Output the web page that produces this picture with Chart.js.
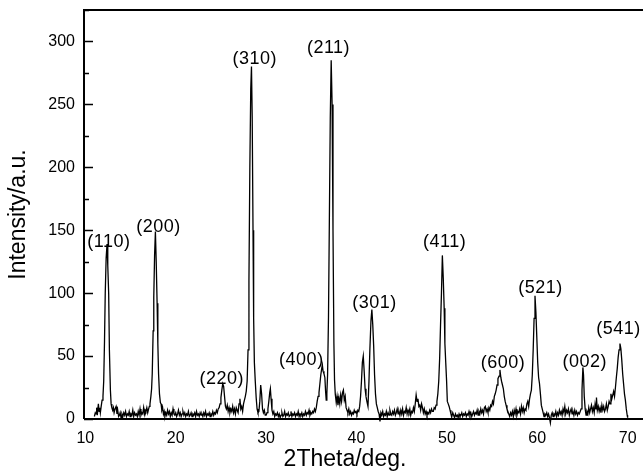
<!DOCTYPE html>
<html>
<head>
<meta charset="utf-8">
<script src="https://cdn.jsdelivr.net/npm/chart.js@4.4.1/dist/chart.umd.min.js"></script>
<style>
  html, body { margin: 0; padding: 0; background: #fff; }
  #wrap { width: 643px; height: 473px; position: relative; }
</style>
</head>
<body>
<div id="wrap"><canvas id="xrd"></canvas></div>
<script>
// XRD pattern as [2theta, intensity] pairs
const scan10to20 = [
  [11.0,2],[11.1,5],[11.18,4],[11.25,9],[11.32,3],[11.44,12],[11.52,6],[11.6,9],[11.66,5],[11.75,10],
  [11.85,15],[11.95,18],[12.03,30],[12.12,62],[12.2,100],[12.3,128],[12.4,139],[12.48,122],[12.58,100],
  [12.66,55],[12.77,23],[12.85,12],[12.93,9],[13.02,7],[13.1,9],[13.18,5],[13.28,8],[13.4,10],[13.5,4],
  [13.58,7],[13.68,2],[13.77,3],[13.85,5],[13.95,1],[14.05,4],[14.15,2],[14.25,5],[14.35,3],[14.45,6],
  [14.55,2],[14.65,4],[14.75,3],[14.85,6],[14.95,2],[15.05,4],[15.15,3],[15.25,7],[15.35,2],[15.45,5],
  [15.55,3],[15.65,4],[15.75,2],[15.85,6],[15.95,3],[16.05,8],[16.15,3],[16.25,5],[16.35,4],[16.45,9],
  [16.55,4],[16.62,7],[16.7,6],[16.8,9],[16.9,5],[17.0,8],[17.08,10],[17.15,12],[17.25,18],[17.33,24],
  [17.4,36],[17.5,70],[17.57,97],[17.66,130],[17.75,149],[17.84,125],[17.94,92],[18.02,60],[18.1,36],
  [18.2,20],[18.3,13],[18.38,12],[18.46,7],[18.55,9],[18.64,4],[18.72,6],[18.8,2],[18.9,5],[19.0,3],
  [19.1,7],[19.2,4],[19.3,6],[19.4,2],[19.5,5],[19.6,3],[19.7,8],[19.8,4],[19.9,3]
];
const scan20to30 = [
  [20.0,5],[20.1,2],[20.2,4],[20.3,7],[20.4,3],[20.5,5],[20.6,2],[20.7,4],[20.8,6],[20.9,3],[21.0,5],
  [21.1,2],[21.2,4],[21.3,3],[21.4,6],[21.5,2],[21.6,3],[21.7,5],[21.8,2],[21.9,4],[22.0,3],[22.1,5],
  [22.2,2],[22.3,6],[22.4,3],[22.5,4],[22.6,2],[22.7,5],[22.8,3],[22.9,4],[23.0,2],[23.1,5],[23.2,3],
  [23.3,6],[23.4,2],[23.5,4],[23.6,3],[23.7,5],[23.8,2],[23.9,4],[24.0,3],[24.1,6],[24.2,3],[24.3,5],
  [24.4,4],[24.5,7],[24.6,5],[24.7,8],[24.8,9],[24.9,12],[25.0,17],[25.1,23],[25.2,28],[25.3,26],
  [25.4,18],[25.5,10],[25.6,8],[25.7,11],[25.8,6],[25.9,9],[26.0,5],[26.1,8],[26.2,6],[26.3,10],
  [26.4,5],[26.5,8],[26.6,4],[26.7,9],[26.8,7],[26.9,5],[27.0,12],[27.1,16],[27.2,8],[27.3,10],
  [27.4,6],[27.5,12],[27.6,15],[27.7,18],[27.8,22],[27.9,30],[28.0,55],[28.1,110],[28.2,200],
  [28.3,262],[28.38,280],[28.46,240],[28.55,150],[28.62,80],[28.7,45],[28.8,30],[28.9,17],[29.0,8],
  [29.1,5],[29.2,6],[29.3,14],[29.4,27],[29.5,20],[29.6,8],[29.7,5],[29.8,7],[29.9,3]
];
const scan30to40 = [
  [30.0,3],[30.1,5],[30.2,8],[30.3,14],[30.4,21],[30.47,24],[30.55,16],[30.65,7],[30.75,4],[30.85,6],
  [30.95,2],[31.05,4],[31.15,3],[31.25,5],[31.35,2],[31.45,4],[31.55,1],[31.65,3],[31.75,5],[31.85,2],
  [31.95,3],[32.05,6],[32.15,2],[32.25,4],[32.35,3],[32.45,5],[32.55,2],[32.65,3],[32.75,6],[32.85,2],
  [32.95,4],[33.05,3],[33.15,5],[33.25,2],[33.35,4],[33.45,3],[33.55,6],[33.65,2],[33.75,4],[33.85,3],
  [33.95,5],[34.05,2],[34.15,4],[34.25,3],[34.35,6],[34.45,3],[34.55,5],[34.65,4],[34.75,7],[34.85,3],
  [34.95,5],[35.05,4],[35.15,6],[35.25,5],[35.35,8],[35.45,6],[35.55,9],[35.65,14],[35.75,18],
  [35.85,21],[35.95,28],[36.05,35],[36.15,40],[36.22,43],[36.3,38],[36.4,36],[36.5,33],[36.58,22],
  [36.65,15],[36.72,20],[36.8,35],[36.9,80],[37.0,160],[37.1,240],[37.2,285],[37.3,250],[37.4,150],
  [37.5,60],[37.57,31],[37.65,20],[37.76,13],[37.85,18],[37.95,11],[38.05,17],[38.15,12],[38.25,19],
  [38.35,14],[38.45,21],[38.55,23],[38.65,15],[38.75,18],[38.85,9],[38.95,7],[39.05,5],[39.15,8],
  [39.25,4],[39.35,6],[39.45,3],[39.55,5],[39.65,4],[39.75,7],[39.85,5],[39.95,6]
];
const scan40to50 = [
  [40.05,4],[40.15,7],[40.25,6],[40.35,10],[40.45,18],[40.55,30],[40.65,45],[40.75,50],[40.85,38],
  [40.95,24],[41.05,18],[41.15,14],[41.27,10],[41.38,30],[41.48,55],[41.6,78],[41.7,87],[41.8,75],
  [41.9,58],[42.0,35],[42.1,20],[42.2,12],[42.3,9],[42.4,6],[42.5,4],[42.6,-2],[42.7,5],[42.8,3],
  [42.9,6],[43.0,2],[43.1,4],[43.2,3],[43.3,6],[43.4,2],[43.5,5],[43.6,3],[43.7,7],[43.8,4],[43.9,3],
  [44.0,6],[44.1,4],[44.2,7],[44.3,3],[44.4,5],[44.5,8],[44.6,4],[44.7,6],[44.8,3],[44.9,7],[45.0,4],
  [45.1,8],[45.2,3],[45.3,6],[45.4,5],[45.5,9],[45.6,4],[45.7,7],[45.8,5],[45.9,8],[46.0,3],[46.1,6],
  [46.2,5],[46.3,9],[46.4,6],[46.5,12],[46.6,19],[46.7,14],[46.8,16],[46.9,10],[47.0,11],[47.1,7],
  [47.2,12],[47.3,9],[47.4,5],[47.5,8],[47.6,4],[47.7,6],[47.8,3],[47.9,5],[48.0,4],[48.1,7],[48.2,5],
  [48.3,8],[48.4,6],[48.5,6],[48.6,9],[48.7,8],[48.8,11],[48.9,14],[49.0,20],[49.1,30],[49.2,48],
  [49.3,75],[49.4,100],[49.5,130],[49.6,112],[49.7,88],[49.78,60],[49.88,44],[49.97,30],[50.05,14],
  [50.15,12],[50.25,10],[50.35,7],[50.45,4]
];
const scan50to60 = [
  [50.55,2],[50.65,5],[50.75,3],[50.85,1],[50.95,4],[51.05,2],[51.15,3],[51.25,1],[51.35,4],[51.45,2],
  [51.55,3],[51.65,5],[51.75,2],[51.85,4],[51.95,3],[52.05,5],[52.15,2],[52.25,4],[52.35,3],[52.45,6],
  [52.55,3],[52.65,5],[52.75,2],[52.85,4],[52.95,6],[53.05,3],[53.15,5],[53.25,4],[53.35,7],[53.45,3],
  [53.55,6],[53.65,4],[53.75,8],[53.85,5],[53.95,7],[54.05,4],[54.15,9],[54.25,10],[54.35,6],[54.45,8],
  [54.55,5],[54.65,9],[54.75,7],[54.85,11],[54.95,10],[55.05,14],[55.15,12],[55.25,18],[55.35,20],
  [55.45,23],[55.55,27],[55.65,32],[55.77,34],[55.87,39],[55.97,33],[56.05,30],[56.15,27],[56.25,24],
  [56.35,18],[56.45,14],[56.55,11],[56.65,8],[56.75,6],[56.85,4],[56.95,2],[57.05,5],[57.15,3],
  [57.25,6],[57.35,2],[57.45,7],[57.55,4],[57.65,8],[57.75,3],[57.85,6],[57.95,5],[58.05,8],[58.15,4],
  [58.25,10],[58.35,6],[58.45,9],[58.55,5],[58.65,8],[58.75,7],[58.85,12],[58.95,14],[59.05,10],
  [59.15,16],[59.25,20],[59.35,23],[59.45,35],[59.55,55],[59.65,80],[59.75,98],[59.85,85],[59.95,65],
  [60.05,45],[60.15,33],[60.25,28],[60.35,20],[60.45,11],[60.55,8],[60.65,5],[60.75,2],[60.85,4]
];
const scan60to70 = [
  [60.95,3],[61.05,5],[61.15,2],[61.25,4],[61.35,1],[61.45,-3],[61.55,3],[61.65,5],[61.75,2],[61.85,4],
  [61.95,3],[62.05,6],[62.15,2],[62.25,5],[62.35,3],[62.45,7],[62.55,4],[62.65,6],[62.75,3],[62.85,8],
  [62.95,5],[63.05,10],[63.15,4],[63.25,7],[63.35,5],[63.45,8],[63.55,3],[63.65,6],[63.75,8],[63.85,4],
  [63.95,6],[64.05,3],[64.15,7],[64.25,4],[64.35,6],[64.45,3],[64.55,5],[64.65,4],[64.75,6],[64.85,8],
  [64.95,23],[65.05,41],[65.12,35],[65.2,18],[65.3,8],[65.4,3],[65.5,6],[65.6,4],[65.7,9],[65.8,5],
  [65.9,8],[66.0,11],[66.1,6],[66.2,9],[66.3,5],[66.4,12],[66.5,8],[66.55,17],[66.65,7],[66.75,10],
  [66.85,6],[66.95,9],[67.05,5],[67.15,11],[67.25,7],[67.35,10],[67.45,6],[67.55,8],[67.65,12],
  [67.75,7],[67.85,10],[67.95,14],[68.05,12],[68.15,20],[68.25,16],[68.35,19],[68.45,22],[68.55,18],
  [68.65,25],[68.75,33],[68.85,40],[68.95,49],[69.05,55],[69.15,60],[69.25,56],[69.35,47],[69.45,36],
  [69.55,28],[69.65,20],[69.75,15],[69.85,8],[69.95,3],[70.0,1]
];

// Miller index labels and where their text sits (2theta, intensity)
const hklText = ['(110)', '(200)', '(220)', '(310)', '(400)', '(211)', '(301)', '(411)', '(600)', '(521)', '(002)', '(541)'];
const hklTheta = [12.6, 18.1, 25.1, 28.75, 33.9, 36.9, 42.0, 49.75, 56.2, 60.35, 65.25, 69.0];
const hklIntensity = [140.5, 152.5, 31.5, 286, 47, 295, 92.5, 140.5, 44.5, 104, 45, 71.5];

const xTicks = [10, 20, 30, 40, 50, 60, 70];
const yTicks = [0, 50, 100, 150, 200, 250, 300];
const yMinorTicks = [25, 75, 125, 175, 225, 275, 325];

const points = [].concat(scan10to20, scan20to30, scan30to40, scan40to50, scan50to60, scan60to70)
  .map(p => ({ x: p[0], y: p[1] }));

const FONT = '"Liberation Sans", Arial, Helvetica, sans-serif';

const framePlugin = {
  id: 'frame',
  afterDatasetsDraw(chart) {
    const { ctx, chartArea: a, scales } = chart;
    const y = scales.y;
    ctx.save();
    ctx.strokeStyle = '#000';
    ctx.lineWidth = 2;
    ctx.beginPath();
    ctx.moveTo(a.left, a.bottom);
    ctx.lineTo(a.left, a.top);
    ctx.lineTo(a.right, a.top);
    ctx.moveTo(a.left, a.bottom);
    ctx.lineTo(a.right, a.bottom);
    ctx.stroke();

    ctx.lineWidth = 1.5;
    ctx.beginPath();
    yTicks.forEach(v => {
      const py = Math.round(y.getPixelForValue(v)) + 0.5;
      ctx.moveTo(a.left, py);
      ctx.lineTo(a.left + 9, py);
    });
    yMinorTicks.forEach(v => {
      const py = Math.round(y.getPixelForValue(v)) + 0.5;
      ctx.moveTo(a.left, py);
      ctx.lineTo(a.left + 5, py);
    });
    ctx.stroke();

    // hkl labels
    ctx.fillStyle = '#000';
    ctx.font = '18px ' + FONT;
    if ('letterSpacing' in ctx) ctx.letterSpacing = '0.5px';
    ctx.textAlign = 'center';
    ctx.textBaseline = 'middle';
    hklText.forEach((t, i) => {
      ctx.fillText(t, scales.x.getPixelForValue(hklTheta[i]), y.getPixelForValue(hklIntensity[i]));
    });

    // x axis title
    ctx.font = '23px ' + FONT;
    if ('letterSpacing' in ctx) ctx.letterSpacing = '0px';
    ctx.textBaseline = 'alphabetic';
    ctx.fillText('2Theta/deg.', a.left + 261, 466);
    ctx.restore();
  }
};

new Chart(document.getElementById('xrd'), {
  type: 'scatter',
  data: {
    datasets: [{
      data: points,
      showLine: true,
      borderColor: '#000',
      borderWidth: 1.3,
      pointRadius: 0,
      tension: 0,
      clip: false,
    }]
  },
  options: {
    responsive: true,
    maintainAspectRatio: false,
    animation: false,
    layout: { padding: { top: 10, right: 0, left: 0, bottom: 0 } },
    plugins: {
      legend: { display: false },
      tooltip: { enabled: false },
    },
    scales: {
      x: {
        type: 'linear',
        min: 9.85,
        max: 71.7,
        afterBuildTicks: s => { s.ticks = xTicks.map(v => ({ value: v })); },
        afterFit: s => { s.height = 54; s.paddingLeft = 0; s.paddingRight = 0; },
        grid: { display: false, drawTicks: false },
        border: { display: false },
        ticks: { color: '#000', font: { family: FONT, size: 16 }, padding: 10, maxRotation: 0 },
      },
      y: {
        min: 0,
        max: 325,
        afterBuildTicks: s => { s.ticks = yTicks.map(v => ({ value: v })); },
        afterFit: s => { s.width = 84; s.paddingTop = 0; s.paddingBottom = 0; },
        grid: { display: false, drawTicks: false },
        border: { display: false },
        ticks: { color: '#000', font: { family: FONT, size: 16 }, padding: 9 },
        title: {
          display: true,
          text: 'Intensity/a.u.',
          color: '#000',
          font: { family: FONT, size: 23 },
          padding: { top: 5, bottom: 0 },
        },
      },
    },
  },
  plugins: [framePlugin],
});
</script>
</body>
</html>
